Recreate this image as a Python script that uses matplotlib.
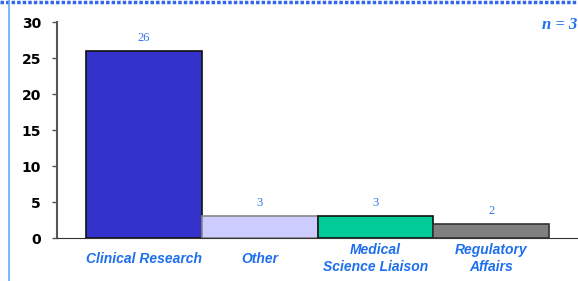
import matplotlib.pyplot as plt
from matplotlib.lines import Line2D

# chart data
categories = ['Clinical Research', 'Other', 'Medical\nScience Liaison', 'Regulatory\nAffairs']
counts = [26, 3, 3, 2]
bar_colors = ['#3333CC', '#CCCCFF', '#00CC99', '#808080']
edge_colors = ['#111111', '#888888', '#111111', '#333333']
y_ticks = [0, 5, 10, 15, 20, 25, 30]

fig = plt.figure(figsize=(5.78, 2.81), dpi=100)
ax = fig.add_axes([57 / 578, 43 / 281, 1 - 57 / 578, 216 / 281])

x = range(len(categories))
ax.bar(x, counts, width=1.0, color=bar_colors, edgecolor=edge_colors, linewidth=1.2)

for xi, v in zip(x, counts):
    ax.annotate(str(v), (xi, v), xytext=(0, 5), textcoords='offset points',
                ha='center', va='bottom', fontsize=9, family='Liberation Serif',
                color='#3377EE')

ax.set_xlim(-0.75, 3.75)
ax.set_ylim(0, 30)
ax.set_yticks(y_ticks)
ax.set_yticklabels([str(t) for t in y_ticks], fontsize=10, fontweight='bold',
                   family='DejaVu Sans')
ax.set_xticks(list(x))
ax.set_xticklabels(categories, fontsize=10, fontweight='bold', fontstyle='italic',
                   family='Liberation Sans', color='#1E6FEE', linespacing=1.25,
                   va='center')
ax.tick_params(axis='x', length=0, pad=15)
ax.tick_params(axis='y', length=3.6, width=1, color='#555555', pad=8)

for s in ['top', 'right']:
    ax.spines[s].set_visible(False)
ax.spines['left'].set_color('#555555')
ax.spines['left'].set_linewidth(1.5)
ax.spines['bottom'].set_color('#333333')

fig.text(577 / 578, 1 - 25 / 281, 'n = 3', ha='right', va='center', fontsize=12,
         fontstyle='italic', fontweight='bold', family='Liberation Serif', color='#1E6FEE')

# frame lines of the slide
fig.add_artist(Line2D([0, 1], [1 - 1.5 / 281, 1 - 1.5 / 281], color='#3366EE',
                      linewidth=2.5, linestyle=(0, (1, 0.6)), transform=fig.transFigure))
fig.add_artist(Line2D([8.5 / 578, 8.5 / 578], [0, 1], color='#66AAFF',
                      linewidth=1.2, transform=fig.transFigure))

fig.savefig('out.png', dpi=100)
